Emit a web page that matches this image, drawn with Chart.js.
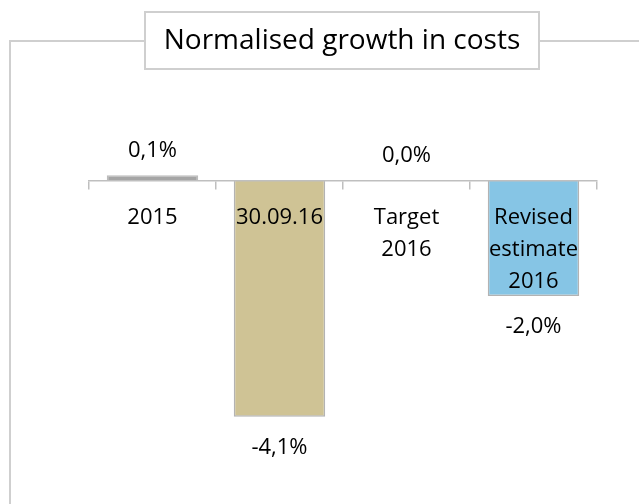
<!DOCTYPE html>
<html>
<head>
<meta charset="utf-8">
<script src="https://cdn.jsdelivr.net/npm/chart.js@4"></script>
<style>
  html, body { margin: 0; padding: 0; background: #fff; }
  #wrap { width: 639px; height: 504px; position: relative; }
</style>
</head>
<body>
<div id="wrap"><canvas id="growthChart"></canvas></div>
<script>
// Chart data
const chartTitle = 'Normalised growth in costs';
const categories = ['2015', '30.09.16', ['Target', '2016'], ['Revised', 'estimate', '2016']];
const growthValues = [0.1, -4.1, 0.0, -2.0];
const valueLabels = ['0,1%', '-4,1%', '0,0%', '-2,0%'];
const barColors = ['#a5a5a5', '#cfc395', '#86c5e5', '#86c5e5'];
const barBorders = ['#bcbcbc', '#b3b3b3', '#b3b3b3', '#b3b3b3'];

const FONT = '"Open Sans", "DejaVu Sans", sans-serif';

// Frame and boxed title behind the chart
const framePlugin = {
  id: 'frame',
  beforeDraw(chart) {
    const ctx = chart.ctx;
    ctx.save();
    ctx.fillStyle = '#fff';
    ctx.fillRect(0, 0, chart.width, chart.height);
    ctx.strokeStyle = '#cfcfcf';
    ctx.lineWidth = 2;
    ctx.beginPath();
    ctx.moveTo(10, chart.height);
    ctx.lineTo(10, 41);
    ctx.lineTo(145, 41);
    ctx.moveTo(539, 41);
    ctx.lineTo(chart.width, 41);
    ctx.stroke();
    ctx.strokeRect(145, 12, 394, 57);
    ctx.fillStyle = '#000';
    ctx.font = '28px ' + FONT;
    ctx.textAlign = 'center';
    ctx.textBaseline = 'middle';
    ctx.fillText(chartTitle, 342, 41);
    ctx.restore();
  }
};

// Value labels above / below each bar
const valueLabelPlugin = {
  id: 'valueLabels',
  afterDatasetsDraw(chart) {
    const ctx = chart.ctx;
    const meta = chart.getDatasetMeta(0);
    ctx.save();
    ctx.fillStyle = '#000';
    ctx.font = '22px ' + FONT;
    ctx.textAlign = 'center';
    ctx.textBaseline = 'middle';
    meta.data.forEach((bar, i) => {
      const v = growthValues[i];
      const y = v >= 0 ? bar.y - 25 : bar.y + 31;
      ctx.fillText(valueLabels[i], bar.x, y);
    });
    ctx.restore();
  }
};

new Chart(document.getElementById('growthChart'), {
  type: 'bar',
  data: {
    labels: categories,
    datasets: [{
      data: growthValues,
      backgroundColor: barColors,
      borderColor: barBorders,
      borderWidth: growthValues.map(v => v === 0 ? 0 : 1.5),
      categoryPercentage: 1,
      barPercentage: 0.72
    }]
  },
  options: {
    responsive: true,
    maintainAspectRatio: false,
    animation: false,
    layout: { padding: { top: 123.5, bottom: 35.5, left: 89, right: 42 } },
    plugins: {
      legend: { display: false },
      tooltip: { enabled: false },
      title: { display: false }
    },
    scales: {
      x: {
        position: { y: 0 },
        offset: true,
        grid: {
          offset: true,
          drawOnChartArea: false,
          drawTicks: true,
          tickLength: 8,
          color: '#bfbfbf',
          lineWidth: 1.5,
          z: 1
        },
        border: { display: true, color: '#bfbfbf', width: 1.5, z: 1 },
        ticks: {
          autoSkip: false,
          maxRotation: 0,
          padding: 13,
          color: '#000',
          z: 1,
          font: { family: FONT, size: 22, lineHeight: '32px' }
        }
      },
      y: {
        display: false,
        min: -5,
        max: 1
      }
    }
  },
  plugins: [framePlugin, valueLabelPlugin]
});
</script>
</body>
</html>
